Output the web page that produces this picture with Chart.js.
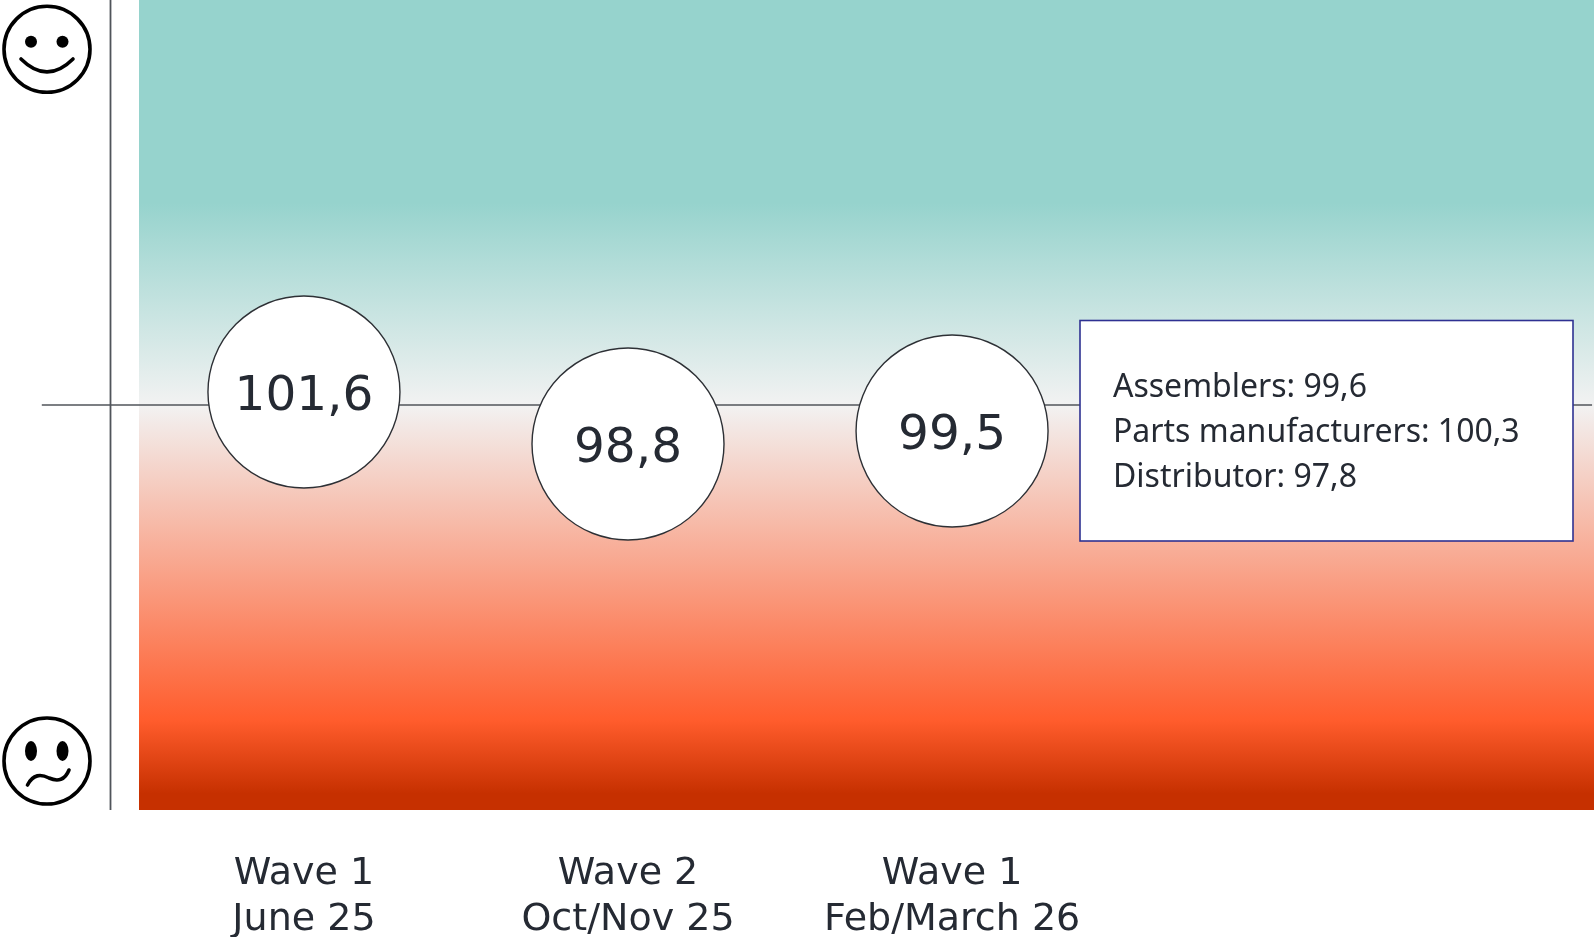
<!DOCTYPE html>
<html>
<head>
<meta charset="utf-8">
<title>Sentiment index by wave</title>
<script src="https://cdn.jsdelivr.net/npm/chart.js@4"></script>
<style>
    html, body { margin: 0; padding: 0; background: #fff; overflow: hidden; }
    canvas { display: block; }
</style>
</head>
<body>
<canvas id="chart" width="1594" height="937"></canvas>
<script>
const waveNames = ['Wave 1', 'Wave 2', 'Wave 1'];
const wavePeriods = ['June 25', 'Oct/Nov 25', 'Feb/March 26'];
const indexValues = [101.6, 98.8, 99.5];
const neutralLevel = 100.9;

const segmentNames = ['Assemblers', 'Parts manufacturers', 'Distributor'];
const segmentValues = [99.6, 100.3, 97.8];

const textColor = '#252a33';
const lineColor = '#50545a';

const formatValue = (value) => value.toFixed(1).replace('.', ',');

// background band, vertical axis and the two faces
const backdrop = {
    id: 'backdrop',
    beforeDatasetsDraw(chart) {
        const { ctx, chartArea } = chart;
        const bandLeft = 139;
        const gradient = ctx.createLinearGradient(0, chartArea.top, 0, chartArea.bottom);
        gradient.addColorStop(0, '#96d3cd');
        gradient.addColorStop(0.25, '#96d3cd');
        gradient.addColorStop(0.5, '#f2f2f2');
        gradient.addColorStop(0.89, '#ff5c2c');
        gradient.addColorStop(0.98, '#c63000');
        gradient.addColorStop(1, '#c63000');
        ctx.save();
        ctx.fillStyle = gradient;
        ctx.fillRect(bandLeft, chartArea.top, chartArea.right - bandLeft, chartArea.bottom - chartArea.top);

        ctx.strokeStyle = lineColor;
        ctx.lineWidth = 1.8;
        ctx.beginPath();
        ctx.moveTo(110.5, chartArea.top);
        ctx.lineTo(110.5, chartArea.bottom);
        ctx.stroke();
        ctx.restore();

        drawHappyFace(ctx);
        drawSadFace(ctx);
    }
};

const drawHead = (ctx, y) => {
    ctx.beginPath();
    ctx.arc(47, y, 43, 0, Math.PI * 2);
    ctx.stroke();
};

const drawHappyFace = (ctx) => {
    ctx.save();
    ctx.strokeStyle = '#000';
    ctx.fillStyle = '#000';
    ctx.lineWidth = 3.6;
    ctx.lineCap = 'round';
    drawHead(ctx, 49.3);
    [31, 62.5].forEach((x) => {
        ctx.beginPath();
        ctx.arc(x, 41.7, 6, 0, Math.PI * 2);
        ctx.fill();
    });
    ctx.beginPath();
    ctx.moveTo(21, 59);
    ctx.quadraticCurveTo(47, 85, 73, 59);
    ctx.stroke();
    ctx.restore();
};

const drawSadFace = (ctx) => {
    ctx.save();
    ctx.strokeStyle = '#000';
    ctx.fillStyle = '#000';
    ctx.lineWidth = 3.6;
    ctx.lineCap = 'round';
    drawHead(ctx, 761);
    [31, 62.5].forEach((x) => {
        ctx.beginPath();
        ctx.ellipse(x, 751, 6, 10, 0, 0, Math.PI * 2);
        ctx.fill();
    });
    ctx.beginPath();
    ctx.moveTo(27.5, 785);
    ctx.bezierCurveTo(33, 774, 41, 774, 49, 778);
    ctx.bezierCurveTo(58, 782, 65, 780, 69, 770);
    ctx.stroke();
    ctx.restore();
};

// numbers inside the circles and the segment breakdown box
const annotations = {
    id: 'annotations',
    afterDatasetsDraw(chart) {
        const { ctx } = chart;
        const points = chart.getDatasetMeta(1).data;

        ctx.save();
        ctx.fillStyle = textColor;
        ctx.font = '48.5px "DejaVu Sans"';
        ctx.textAlign = 'center';
        ctx.textBaseline = 'alphabetic';
        points.forEach((point, i) => {
            ctx.fillText(formatValue(indexValues[i]), point.x, point.y + 18);
        });

        ctx.fillStyle = '#fff';
        ctx.strokeStyle = '#2e3192';
        ctx.lineWidth = 1.6;
        ctx.fillRect(1080, 320.5, 493, 220.5);
        ctx.strokeRect(1080, 320.5, 493, 220.5);

        ctx.fillStyle = textColor;
        ctx.font = '32px "Noto Sans"';
        ctx.textAlign = 'left';
        segmentNames.forEach((name, i) => {
            ctx.fillText(name + ': ' + formatValue(segmentValues[i]), 1113, 397 + i * 45);
        });
        ctx.restore();
    }
};

new Chart(document.getElementById('chart'), {
    type: 'scatter',
    data: {
        datasets: [
            {
                type: 'line',
                data: [{ x: -0.809, y: neutralLevel }, { x: 3.975, y: neutralLevel }],
                borderColor: lineColor,
                borderWidth: 1.6,
                pointRadius: 0,
                order: 2
            },
            {
                data: indexValues.map((value, i) => ({ x: i, y: value })),
                backgroundColor: '#fff',
                borderColor: '#2d3035',
                borderWidth: 1.4,
                pointRadius: 96,
                order: 1
            }
        ]
    },
    options: {
        responsive: false,
        animation: false,
        layout: { padding: 0, autoPadding: false },
        plugins: { legend: { display: false }, tooltip: { enabled: false } },
        scales: {
            x: {
                type: 'linear',
                min: -0.938,
                max: 3.981,
                grid: { display: false },
                border: { display: false },
                afterBuildTicks(scale) {
                    scale.ticks = waveNames.map((name, i) => ({ value: i }));
                },
                afterFit(scale) {
                    scale.height = 127;
                },
                ticks: {
                    autoSkip: false,
                    maxRotation: 0,
                    padding: 34,
                    color: textColor,
                    font: { family: '"DejaVu Sans"', size: 38, lineHeight: 1.19 },
                    callback: (value) => [waveNames[value], wavePeriods[value]]
                }
            },
            y: {
                display: false,
                min: 79.09,
                max: 122.71
            }
        }
    },
    plugins: [backdrop, annotations]
});
</script>
</body>
</html>
